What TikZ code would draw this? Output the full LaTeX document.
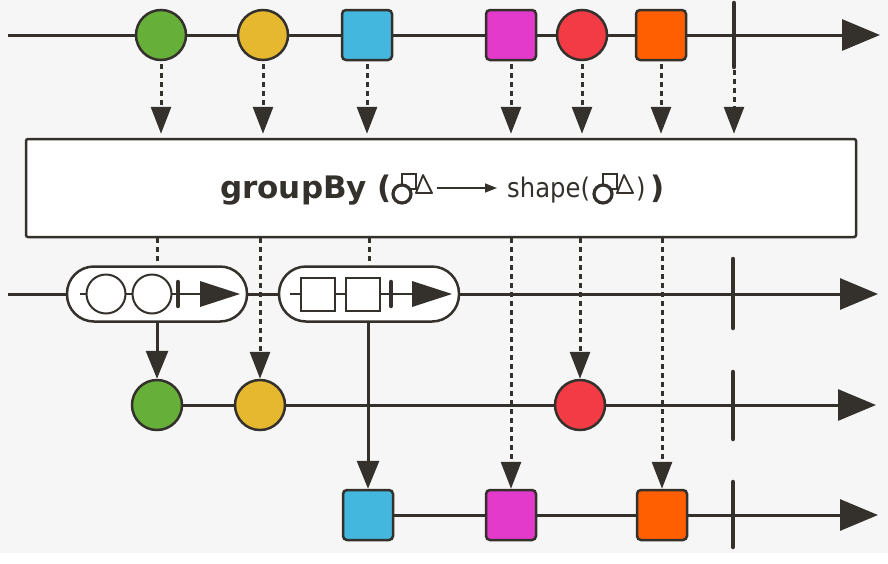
\documentclass[tikz,border=0pt]{standalone}
\usepackage{fontspec}
\setmainfont{DejaVu Sans}
\newfontfamily\condf[FakeStretch=0.9]{DejaVu Sans}
\usetikzlibrary{arrows.meta,backgrounds}
\definecolor{dk}{RGB}{52,49,45}
\definecolor{bgc}{RGB}{246,246,246}
\definecolor{cgreen}{RGB}{102,176,58}
\definecolor{cyellow}{RGB}{230,184,48}
\definecolor{cblue}{RGB}{67,183,221}
\definecolor{cmag}{RGB}{227,58,203}
\definecolor{cred}{RGB}{242,59,69}
\definecolor{corange}{RGB}{255,95,0}
\begin{document}
\begin{tikzpicture}[x=1pt,y=-1pt,
  ln/.style={draw=dk, line width=3pt},
  mainarr/.style={ln, -{Triangle[length=38pt 0 0,width=31pt 0 0]}},
  tk/.style={draw=dk, line width=4.5pt, line cap=round},
  dotln/.style={draw=dk, line width=3pt, dash pattern=on 5pt off 4pt},
  dotarr/.style={dotln, -{Triangle[length=27pt 0 0,width=20pt 0 0]}},
  solarr/.style={ln, -{Triangle[length=28pt 0 0,width=22pt 0 0]}},
  mcirc/.style={circle, draw=dk, line width=2.5pt, minimum size=50pt, inner sep=0pt},
  msq/.style={rectangle, rounded corners=4pt, draw=dk, line width=2.5pt, minimum size=50pt, inner sep=0pt},
  capsule/.style={rectangle, rounded corners=27pt, draw=dk, line width=2.5pt, fill=white, minimum width=180pt, minimum height=55pt, inner sep=0pt},
  icirc/.style={circle, draw=dk, line width=2pt, fill=white, minimum size=39pt, inner sep=0pt},
  isq/.style={rectangle, draw=dk, line width=2pt, fill=white, minimum width=34pt, minimum height=33pt, inner sep=0pt},
  ibar/.style={draw=dk, line width=4.5pt, line cap=round},
  iln/.style={draw=dk, line width=1.5pt},
  bigtxt/.style={anchor=base west, inner sep=0pt, text=dk, font=\bfseries\fontsize{31}{31}\selectfont},
  smtxt/.style={anchor=base west, inner sep=0pt, text=dk, font=\condf\fontsize{27}{27}\selectfont},
  sym/.pic={
    \draw[dk, line width=1.8pt, fill=white] (0,-20) rectangle (14,-5);
    \draw[dk, line width=1.8pt, line join=round] (14,-1) -- (30,-1) -- (21,-19) -- cycle;
    \draw[dk, line width=3.2pt, fill=white] (0,0) circle[radius=9pt];
  }
]
\useasboundingbox (0,0) rectangle (888,563);
\begin{scope}[on background layer]
  \fill[white] (0,0) rectangle (888,563);
  \fill[bgc] (0,0) rectangle (888,553);
\end{scope}

% ---- top row
\node[mcirc, fill=cgreen]  (a1) at (161,35) {};
\node[mcirc, fill=cyellow] (a2) at (263,35) {};
\node[msq,   fill=cblue]   (a3) at (367,35) {};
\node[msq,   fill=cmag]    (a4) at (511,35) {};
\node[mcirc, fill=cred]    (a5) at (582,35) {};
\node[msq,   fill=corange] (a6) at (661,35) {};
\coordinate (t0top) at (734,3);
\coordinate (t0bot) at (734,67);
\coordinate (l0s) at (8,35);
\coordinate (l0e) at (880,35);

% ---- operator box
\node[draw=dk, line width=2.5pt, fill=white, rounded corners=2pt, minimum width=830pt, minimum height=98pt, inner sep=0pt] (box) at (441,188) {};

% ---- label
\node[bigtxt] (t1) at (220,198) {groupBy (};
\pic at (402,194) {sym};
\coordinate (ar1) at (437,188);
\coordinate (ar2) at (497,188);
\draw[iln, -{Triangle[length=12pt 0 0,width=9pt 0 0]}] (ar1) -- (ar2);
\node[smtxt] (t2) at (507,197) {shape(};
\pic at (603,194) {sym};
\node[smtxt] (t3) at (636,197) {)};
\node[bigtxt] (t4) at (650,198) {)};

% ---- second row: groups
\node[capsule] (c1) at (157,294) {};
\node[capsule] (c2) at (369,294) {};
\coordinate (c1a) at (80,294);  \coordinate (c1b) at (238,294);
\draw[iln] (c1a) -- (c1b);
\node[icirc] (ci1) at (106,294) {};
\node[icirc] (ci2) at (152,294) {};
\draw[ibar] (178,282) -- (178,306);
\fill[dk] (200,281) -- (240,294) -- (200,307) -- cycle;
\coordinate (c2a) at (290,294); \coordinate (c2b) at (450,294);
\draw[iln] (c2a) -- (c2b);
\node[isq] (cs1) at (318,294) {};
\node[isq] (cs2) at (363,294) {};
\draw[ibar] (391,282) -- (391,306);
\fill[dk] (412,281) -- (452,294) -- (412,307) -- cycle;
\coordinate (l1s) at (8,294);
\coordinate (l1e) at (878,294);
\coordinate (t1top) at (733,259);
\coordinate (t1bot) at (733,328);

% ---- third row
\node[mcirc, fill=cgreen]  (g1) at (157,405) {};
\node[mcirc, fill=cyellow] (g2) at (260,405) {};
\node[mcirc, fill=cred]    (g3) at (580,405) {};
\coordinate (l2e) at (876,405);
\coordinate (t2top) at (733,372);
\coordinate (t2bot) at (733,439);

% ---- fourth row
\node[msq, fill=cblue]   (s1) at (368,515) {};
\node[msq, fill=cmag]    (s2) at (511,515) {};
\node[msq, fill=corange] (s3) at (662,515) {};
\coordinate (l3e) at (878,515);
\coordinate (t3top) at (733,482);
\coordinate (t3bot) at (733,547);

% ---- connectors
\begin{scope}[on background layer]
  \draw[mainarr] (l0s) -- (l0e);
  \draw[mainarr] (l1s) -- (l1e);
  \draw[mainarr] (g1.center) -- (l2e);
  \draw[mainarr] (s1.center) -- (l3e);
\end{scope}
\draw[tk] (t0top) -- (t0bot);
\draw[tk] (t1top) -- (t1bot);
\draw[tk] (t2top) -- (t2bot);
\draw[tk] (t3top) -- (t3bot);

\foreach \n in {a1,a2,a3,a4,a5,a6}
  \draw[dotarr, shorten >=4pt] ([yshift=-3pt]\n.south) -- (\n.south |- box.north);
\draw[dotarr, shorten >=4pt] ([yshift=-3pt]t0bot) -- (t0bot |- box.north);

\draw[dotln] (c1.north |- box.south) -- (c1.north);
\draw[dotln] (c2.north |- box.south) -- (c2.north);
\draw[dotarr] (g2.north |- box.south) -- (g2.north);
\draw[dotarr] (g3.north |- box.south) -- (g3.north);
\draw[dotarr] (s2.north |- box.south) -- (s2.north);
\draw[dotarr] (s3.north |- box.south) -- (s3.north);
\draw[solarr] (g1.north |- c1.south) -- (g1.north);
\draw[solarr] (s1.north |- c2.south) -- (s1.north);
\end{tikzpicture}
\end{document}
